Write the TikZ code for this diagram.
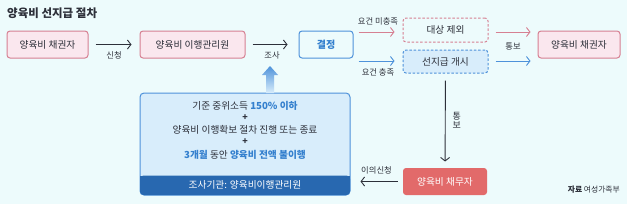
\documentclass[tikz,border=0pt]{standalone}
\usepackage{fontspec}
\setmainfont{Noto Sans CJK KR}
\usetikzlibrary{arrows.meta,positioning}
\definecolor{bgcyan}{RGB}{237,251,252}
\definecolor{pinkfill}{RGB}{250,231,238}
\definecolor{pinkline}{RGB}{214,128,146}
\definecolor{blueline}{RGB}{78,146,218}
\definecolor{bluefill}{RGB}{216,237,251}
\definecolor{bandblue}{RGB}{40,104,176}
\definecolor{redfill}{RGB}{226,106,106}
\definecolor{inkdark}{RGB}{45,48,58}
\definecolor{inkblue}{RGB}{52,128,206}
\tikzset{
  box/.style={draw, rounded corners=3pt, line width=1pt, inner sep=0pt,
    minimum height=27pt, font=\fontsize{9.7}{11}\selectfont, text=inkdark},
  pinkbox/.style={box, draw=pinkline, fill=pinkfill},
  bluebox/.style={box, draw=blueline, fill=bgcyan},
  dashbox/.style={box, dashed, dash pattern=on 2.5pt off 1.8pt, line width=1pt},
  flow/.style={line width=0.9pt, -{Straight Barb[length=3.5pt,width=9pt]}},
  lbl/.style={font=\fontsize{8.3}{9}\selectfont, text=inkdark, inner sep=0pt},
  critline/.style={font=\fontsize{9.7}{11}\selectfont, text=inkdark, inner sep=0pt}
}
\begin{document}
\begin{tikzpicture}[x=1pt, y=-1pt]
\useasboundingbox[fill=bgcyan] (0,0) rectangle (627,204);
% Title
\node[anchor=west, font=\fontsize{11.5}{13}\selectfont\bfseries, text=inkdark, inner sep=0pt] (title) at (7,13) {양육비 선지급 절차};
% Top row
\node[pinkbox, minimum width=81pt] (creditorL) at (47.5,44.5) {양육비 채권자};
\node[pinkbox, minimum width=105pt] (agency) at (192.5,44.5) {양육비 이행관리원};
\node[bluebox, minimum width=54pt, text=inkblue, font=\fontsize{10}{11}\selectfont\bfseries] (decide) at (326,44.5) {결정};
\node[dashbox, draw=pinkline, fill=bgcyan, minimum width=85pt, minimum height=24pt] (exclude) at (445.5,30) {대상 제외};
\node[dashbox, draw=blueline, fill=bluefill, minimum width=85pt, minimum height=23pt] (start) at (445.5,61.5) {선지급 개시};
\node[pinkbox, minimum width=82pt] (creditorR) at (579,44.5) {양육비 채권자};
% Criteria box
\node[draw=blueline, line width=1pt, fill=bluefill, rounded corners=4pt, minimum width=210pt, minimum height=102pt, inner sep=0pt] (criteria) at (245,144) {};
\fill[bandblue, rounded corners=3.5pt] ([xshift=0.5pt,yshift=20pt]criteria.south west) rectangle ([xshift=-0.5pt,yshift=0.5pt]criteria.south east);
\fill[bandblue] ([xshift=0.5pt,yshift=20pt]criteria.south west) rectangle ([xshift=-0.5pt,yshift=14pt]criteria.south east);
\node[critline] (crit1) at (245,106) {기준 중위소득 \textcolor{inkblue}{\bfseries 150\% 이하}};
\node[critline, font=\fontsize{9}{10}\selectfont\bfseries] (plus1) at (245,118) {+};
\node[critline] (crit2) at (245,130) {양육비 이행확보 절차 진행 또는 종료};
\node[critline, font=\fontsize{9}{10}\selectfont\bfseries] (plus2) at (245,142) {+};
\node[critline] (crit3) at (245,155) {\textcolor{inkblue}{\bfseries 3개월} 동안 \textcolor{inkblue}{\bfseries 양육비 전액 불이행}};
\node[critline, text=white] (band) at (245,185) {조사기관: 양육비이행관리원};
% Debtor
\node[box, draw=none, fill=redfill, text=white, minimum width=84pt] (debtor) at (445,181.5) {양육비 채무자};
% Connectors
\draw[flow, inkdark, shorten <=7pt, shorten >=8pt] (creditorL) -- (agency) node[lbl, midway, below=7pt] {신청};
\draw[flow, inkdark, shorten <=7pt, shorten >=11pt] (agency) -- (decide) coordinate[midway] (survey);
\node[lbl, below=7pt of survey] (surveylbl) {조사};
\draw[flow, pinkline, shorten <=5pt, shorten >=8pt] (decide.east |- 0,32) -- (exclude.west |- 0,32) node[lbl, midway, above=6pt] {요건 미충족};
\draw[flow, blueline, shorten <=5pt, shorten >=8pt] (decide.east |- 0,61) -- (start.west |- 0,61) node[lbl, midway, below=7pt] {요건 충족};
\draw[flow, pinkline, shorten <=7pt, shorten >=7pt] (exclude.east |- 0,32) -- (creditorR.west |- 0,32);
\draw[flow, blueline, shorten <=7pt, shorten >=7pt] (start.east |- 0,61) -- (creditorR.west |- 0,61);
\node[lbl] (notice) at (513,46) {통보};
\draw[flow, inkdark, shorten <=7pt, shorten >=6pt] (start) -- (debtor) node[lbl, pos=0.5, right=7pt, align=center, font=\fontsize{9}{10}\selectfont] {통\\[-1pt]보};
\draw[flow, inkdark, shorten <=5pt, shorten >=10pt] (debtor.west) -- (criteria.east |- debtor.west) node[lbl, midway, above=7pt] {이의신청};
% Up arrow into the survey step
\shade[top color=blueline, bottom color=bluefill] (266,93) -- (266,75) -- (262,75) -- (270,66) -- (278,75) -- (274,75) -- (274,93) -- cycle;
% Source
\node[anchor=east, inner sep=0pt, font=\fontsize{7.8}{8}\selectfont, text=inkdark] (source) at (620,190) {\textbf{자료} 여성가족부};
\end{tikzpicture}
\end{document}
